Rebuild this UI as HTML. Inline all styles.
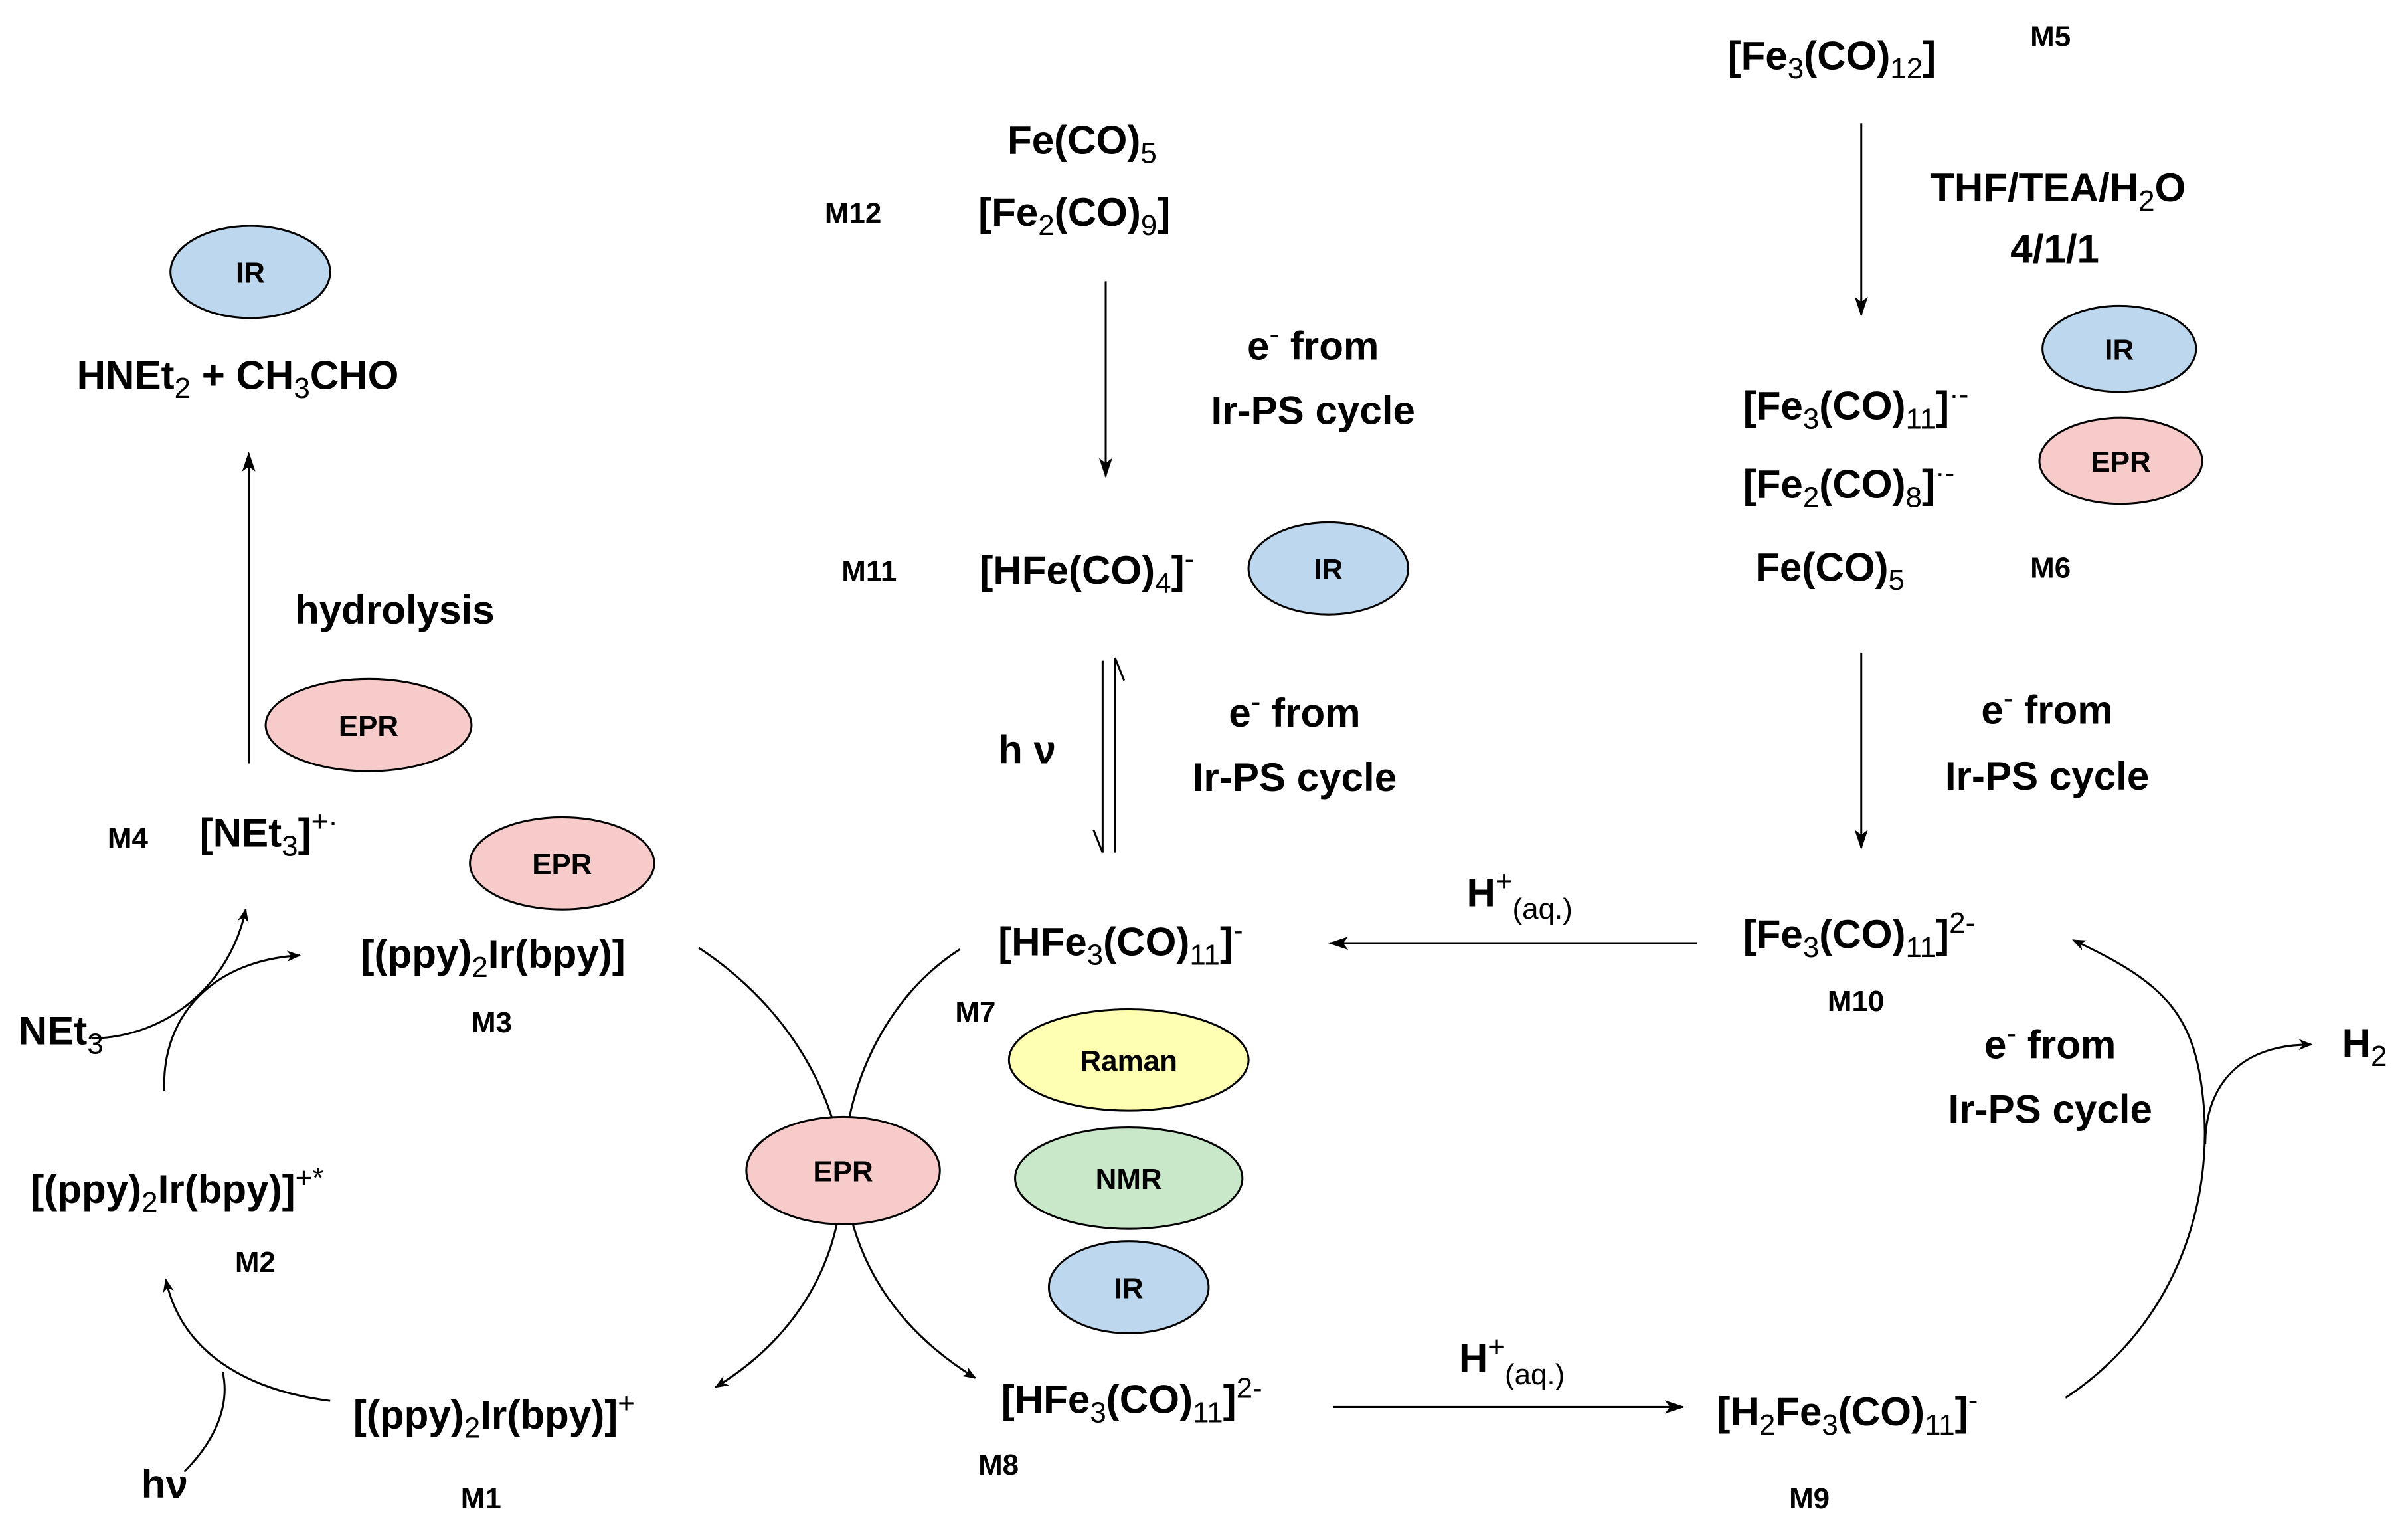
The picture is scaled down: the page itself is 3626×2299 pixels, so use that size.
<!DOCTYPE html>
<html><head><meta charset="utf-8"><style>
html,body{margin:0;padding:0;background:#fff;}
svg{display:block;}
text{font-family:"Liberation Sans",Arial,sans-serif;fill:#000;}
.t{font-size:26px;font-weight:bold;}
.m{font-size:19px;font-weight:bold;}
.e{font-size:19px;font-weight:bold;text-anchor:middle;}
.s{font-size:19px;font-weight:normal;}
</style></head><body>
<svg width="3626" height="2299" viewBox="0 0 1568 994" xmlns="http://www.w3.org/2000/svg">
<defs>
<marker id="a" viewBox="0 0 10 10" refX="9" refY="5" markerWidth="9" markerHeight="9" orient="auto" markerUnits="userSpaceOnUse">
<path d="M0,1 L10,5 L0,9 L3,5 Z" fill="#000"/></marker>
<marker id="a2" viewBox="0 0 12 10" refX="11" refY="5" markerWidth="13" markerHeight="11" orient="auto" markerUnits="userSpaceOnUse">
<path d="M0,1 L12,5 L0,9 L3,5 Z" fill="#000"/></marker>
</defs>
<g stroke="#000" stroke-width="1.3" fill="none">
<line x1="1212" y1="80" x2="1212" y2="205" marker-end="url(#a2)"/>
<line x1="1212" y1="425" x2="1212" y2="552" marker-end="url(#a2)"/>
<line x1="720" y1="183" x2="720" y2="310" marker-end="url(#a2)"/>
<line x1="1105" y1="614" x2="866" y2="614" marker-end="url(#a2)"/>
<line x1="868" y1="916" x2="1096" y2="916" marker-end="url(#a2)"/>
<line x1="162" y1="497" x2="162" y2="295" marker-end="url(#a2)"/>
<path d="M718,430 L718,555"/><path d="M718,555 L712,540"/>
<path d="M726,555 L726,428"/><path d="M726,428 L732,443"/>
<path d="M455,617 C520,660 545,720 549,762 C553,810 575,860 635,897" marker-end="url(#a)"/>
<path d="M625,618 C575,650 550,710 549,762 C548,820 520,870 466,903" marker-end="url(#a)"/>
<path d="M60,676 C110,675 150,640 160,592" marker-end="url(#a)"/>
<path d="M107,710 C105,660 140,625 195,622" marker-end="url(#a)"/>
<path d="M215,912 C160,905 118,880 108,833" marker-end="url(#a)"/>
<path d="M120,958 C140,938 150,915 145,893"/>
<path d="M1345,910 C1420,860 1440,780 1435,720 C1430,660 1410,640 1350,612" marker-end="url(#a)"/>
<path d="M1436,745 C1436,710 1455,680 1505,680" marker-end="url(#a)"/>
</g>
<g stroke="#000" stroke-width="1.3">
<ellipse cx="163" cy="177" rx="52" ry="30" fill="#bdd7ee"/>
<ellipse cx="240" cy="472" rx="67" ry="30" fill="#f8cbcb"/>
<ellipse cx="366" cy="562" rx="60" ry="30" fill="#f8cbcb"/>
<ellipse cx="549" cy="762" rx="63" ry="35" fill="#f8cbcb"/>
<ellipse cx="865" cy="370" rx="52" ry="30" fill="#bdd7ee"/>
<ellipse cx="735" cy="690" rx="78" ry="33" fill="#ffffb3"/>
<ellipse cx="735" cy="767" rx="74" ry="33" fill="#c9e7c9"/>
<ellipse cx="735" cy="838" rx="52" ry="30" fill="#bdd7ee"/>
<ellipse cx="1380" cy="227" rx="50" ry="28" fill="#bdd7ee"/>
<ellipse cx="1381" cy="300" rx="53" ry="28" fill="#f8cbcb"/>
</g>
<text class="e" x="163" y="184">IR</text>
<text class="e" x="240" y="479">EPR</text>
<text class="e" x="366" y="569">EPR</text>
<text class="e" x="549" y="769">EPR</text>
<text class="e" x="865" y="377">IR</text>
<text class="e" x="735" y="697">Raman</text>
<text class="e" x="735" y="774">NMR</text>
<text class="e" x="735" y="845">IR</text>
<text class="e" x="1380" y="234">IR</text>
<text class="e" x="1381" y="307">EPR</text>
<text class="t" x="1125" y="45">[Fe<tspan class="s" dy="6">3</tspan><tspan dy="-6">(CO)</tspan><tspan class="s" dy="6">12</tspan><tspan dy="-6">]</tspan></text>
<text class="m" x="1322" y="30">M5</text>
<text class="t" x="1340" y="131" text-anchor="middle">THF/TEA/H<tspan class="s" dy="6">2</tspan><tspan dy="-6">O</tspan></text>
<text class="t" x="1338" y="171" text-anchor="middle">4/1/1</text>
<text class="t" x="1135" y="273">[Fe<tspan class="s" dy="6">3</tspan><tspan dy="-6">(CO)</tspan><tspan class="s" dy="6">11</tspan><tspan dy="-6">]</tspan><tspan class="s" dy="-10">·-</tspan></text>
<text class="t" x="1135" y="324">[Fe<tspan class="s" dy="6">2</tspan><tspan dy="-6">(CO)</tspan><tspan class="s" dy="6">8</tspan><tspan dy="-6">]</tspan><tspan class="s" dy="-10">·-</tspan></text>
<text class="t" x="1143" y="378">Fe(CO)<tspan class="s" dy="6">5</tspan></text>
<text class="m" x="1322" y="376">M6</text>
<text class="t" x="1333" y="471" text-anchor="middle">e<tspan class="s" dy="-10">-</tspan><tspan dy="10"> from</tspan></text>
<text class="t" x="1333" y="514" text-anchor="middle">Ir-PS cycle</text>
<text class="t" x="1135" y="617">[Fe<tspan class="s" dy="6">3</tspan><tspan dy="-6">(CO)</tspan><tspan class="s" dy="6">11</tspan><tspan dy="-6">]</tspan><tspan class="s" dy="-10">2-</tspan></text>
<text class="m" x="1190" y="658">M10</text>
<text class="t" x="955" y="590">H<tspan class="s" dy="-10">+</tspan><tspan class="s" dy="18">(aq.)</tspan></text>
<text class="t" x="650" y="622">[HFe<tspan class="s" dy="6">3</tspan><tspan dy="-6">(CO)</tspan><tspan class="s" dy="6">11</tspan><tspan dy="-6">]</tspan><tspan class="s" dy="-10">-</tspan></text>
<text class="m" x="622" y="665">M7</text>
<text class="t" x="656" y="100">Fe(CO)<tspan class="s" dy="6">5</tspan></text>
<text class="t" x="637" y="147">[Fe<tspan class="s" dy="6">2</tspan><tspan dy="-6">(CO)</tspan><tspan class="s" dy="6">9</tspan><tspan dy="-6">]</tspan></text>
<text class="m" x="537" y="145">M12</text>
<text class="t" x="855" y="234" text-anchor="middle">e<tspan class="s" dy="-10">-</tspan><tspan dy="10"> from</tspan></text>
<text class="t" x="855" y="276" text-anchor="middle">Ir-PS cycle</text>
<text class="m" x="548" y="378">M11</text>
<text class="t" x="638" y="380">[HFe(CO)<tspan class="s" dy="6">4</tspan><tspan dy="-6">]</tspan><tspan class="s" dy="-10">-</tspan></text>
<text class="t" x="650" y="497">h ν</text>
<text class="t" x="843" y="473" text-anchor="middle">e<tspan class="s" dy="-10">-</tspan><tspan dy="10"> from</tspan></text>
<text class="t" x="843" y="515" text-anchor="middle">Ir-PS cycle</text>
<text class="t" x="235" y="630">[(ppy)<tspan class="s" dy="6">2</tspan><tspan dy="-6">Ir(bpy)]</tspan></text>
<text class="m" x="307" y="672">M3</text>
<text class="m" x="70" y="552">M4</text>
<text class="t" x="130" y="551">[NEt<tspan class="s" dy="6">3</tspan><tspan dy="-6">]</tspan><tspan class="s" dy="-10">+·</tspan></text>
<text class="t" x="192" y="406">hydrolysis</text>
<text class="t" x="50" y="253">HNEt<tspan class="s" dy="6">2</tspan><tspan dy="-6"> + CH</tspan><tspan class="s" dy="6">3</tspan><tspan dy="-6">CHO</tspan></text>
<text class="t" x="12" y="680">NEt<tspan class="s" dy="6">3</tspan></text>
<text class="t" x="20" y="783">[(ppy)<tspan class="s" dy="6">2</tspan><tspan dy="-6">Ir(bpy)]</tspan><tspan class="s" dy="-10">+*</tspan></text>
<text class="m" x="153" y="828">M2</text>
<text class="t" x="92" y="975">hν</text>
<text class="t" x="230" y="930">[(ppy)<tspan class="s" dy="6">2</tspan><tspan dy="-6">Ir(bpy)]</tspan><tspan class="s" dy="-10">+</tspan></text>
<text class="m" x="300" y="982">M1</text>
<text class="t" x="652" y="920">[HFe<tspan class="s" dy="6">3</tspan><tspan dy="-6">(CO)</tspan><tspan class="s" dy="6">11</tspan><tspan dy="-6">]</tspan><tspan class="s" dy="-10">2-</tspan></text>
<text class="m" x="637" y="960">M8</text>
<text class="t" x="950" y="893">H<tspan class="s" dy="-10">+</tspan><tspan class="s" dy="18">(aq.)</tspan></text>
<text class="t" x="1118" y="928">[H<tspan class="s" dy="6">2</tspan><tspan dy="-6">Fe</tspan><tspan class="s" dy="6">3</tspan><tspan dy="-6">(CO)</tspan><tspan class="s" dy="6">11</tspan><tspan dy="-6">]</tspan><tspan class="s" dy="-10">-</tspan></text>
<text class="m" x="1165" y="982">M9</text>
<text class="t" x="1525" y="688">H<tspan class="s" dy="6">2</tspan></text>
<text class="t" x="1335" y="689" text-anchor="middle">e<tspan class="s" dy="-10">-</tspan><tspan dy="10"> from</tspan></text>
<text class="t" x="1335" y="731" text-anchor="middle">Ir-PS cycle</text>
</svg>
</body></html>
